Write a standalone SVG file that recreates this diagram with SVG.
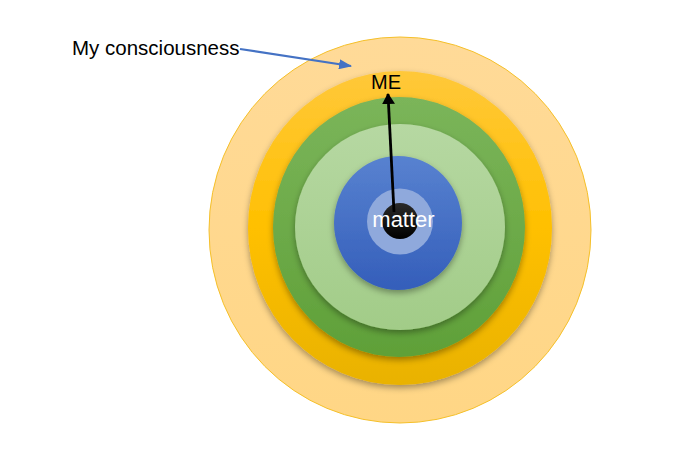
<svg xmlns="http://www.w3.org/2000/svg" width="698" height="465" viewBox="0 0 698 465">
  <defs>
    <style>
      .lbl { font-family: "Liberation Sans", Arial, sans-serif; fill: #000; }
      .wlbl { font-family: "Liberation Sans", Arial, sans-serif; fill: #fff; }
      .ring { filter: url(#sh); }
    </style>
    <filter id="sh" x="-20%" y="-20%" width="140%" height="150%">
      <feDropShadow dx="0" dy="3" stdDeviation="3" flood-color="#000" flood-opacity="0.35"/>
    </filter>
    <linearGradient id="gOuter" x1="0" y1="0" x2="0" y2="1">
      <stop offset="0" stop-color="#FFDA98"/>
      <stop offset="1" stop-color="#FFD685"/>
    </linearGradient>
    <linearGradient id="gYellow" x1="0" y1="0" x2="0" y2="1">
      <stop offset="0" stop-color="#FFC83A"/>
      <stop offset="0.5" stop-color="#FFC000"/>
      <stop offset="1" stop-color="#E9B200"/>
    </linearGradient>
    <linearGradient id="gGreen" x1="0" y1="0" x2="0" y2="1">
      <stop offset="0" stop-color="#7BB55A"/>
      <stop offset="1" stop-color="#5FA038"/>
    </linearGradient>
    <linearGradient id="gLGreen" x1="0" y1="0" x2="0" y2="1">
      <stop offset="0" stop-color="#B6D8A2"/>
      <stop offset="1" stop-color="#A2CC88"/>
    </linearGradient>
    <linearGradient id="gBlue" x1="0" y1="0" x2="0" y2="1">
      <stop offset="0" stop-color="#5882D0"/>
      <stop offset="1" stop-color="#345EBA"/>
    </linearGradient>
    <linearGradient id="gBlack" x1="0" y1="0" x2="0" y2="1">
      <stop offset="0" stop-color="#2a2a2a"/>
      <stop offset="1" stop-color="#000"/>
    </linearGradient>
    <marker id="ahBlue" viewBox="0 0 13 10" refX="12" refY="5" markerWidth="13" markerHeight="10" orient="auto" markerUnits="userSpaceOnUse">
      <path d="M0,0 L13,5 L0,10 z" fill="#4472C4"/>
    </marker>
    <marker id="ahBlack" viewBox="0 0 11 13" refX="10" refY="6.5" markerWidth="11" markerHeight="13" orient="auto" markerUnits="userSpaceOnUse">
      <path d="M0,0 L11,6.5 L0,13 z" fill="#000"/>
    </marker>
  </defs>

  <rect width="698" height="465" fill="#fff"/>

  <g id="outer-consciousness">
    <ellipse cx="400" cy="230" rx="191" ry="193" fill="url(#gOuter)" stroke="#F5C02A" stroke-width="1"/>
  </g>
  <g id="yellow-ring">
    <ellipse class="ring" cx="400" cy="228" rx="152" ry="157" fill="url(#gYellow)"/>
  </g>
  <g id="green-ring">
    <ellipse class="ring" cx="399" cy="227" rx="126" ry="130" fill="url(#gGreen)"/>
  </g>
  <g id="light-green-ring">
    <ellipse class="ring" cx="400" cy="227" rx="105" ry="103" fill="url(#gLGreen)"/>
  </g>
  <g id="blue-ring">
    <ellipse class="ring" cx="398" cy="223" rx="64" ry="67" fill="url(#gBlue)"/>
  </g>
  <g id="light-blue-core">
    <circle cx="400" cy="221.5" r="33" fill="#8FA9DC"/>
  </g>
  <g id="matter">
    <circle cx="400" cy="221" r="18" fill="url(#gBlack)"/>
    <text class="wlbl" x="403.5" y="227" font-size="22" text-anchor="middle">matter</text>
  </g>
  <g id="me-label">
    <text class="lbl" x="386" y="89" font-size="20" text-anchor="middle">ME</text>
  </g>
  <g id="consciousness-label">
    <text class="lbl" x="72" y="55" font-size="20.5">My consciousness</text>
  </g>

  <g id="connectors">
    <line x1="240" y1="49" x2="351" y2="66" stroke="#4472C4" stroke-width="2.2" marker-end="url(#ahBlue)"/>
    <line x1="394" y1="212" x2="388" y2="94" stroke="#000" stroke-width="2.8" marker-end="url(#ahBlack)"/>
  </g>
</svg>
